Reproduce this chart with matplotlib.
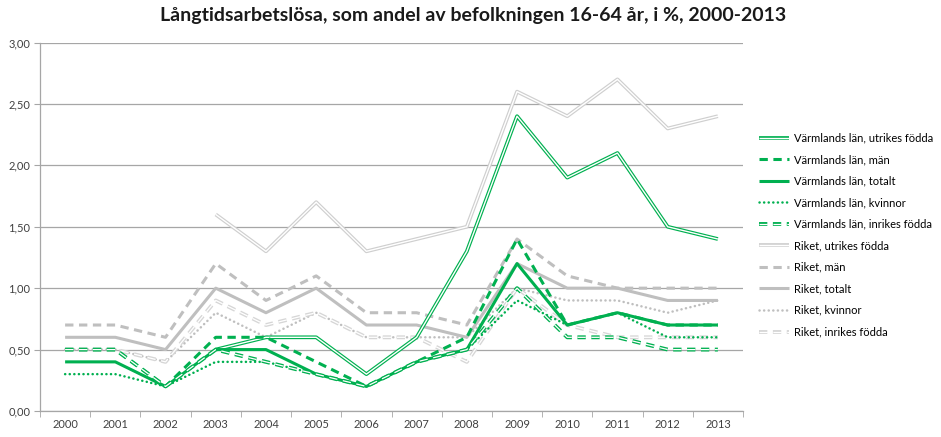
import numpy as np
import matplotlib
matplotlib.use("Agg")
import matplotlib.pyplot as plt
from matplotlib.ticker import FuncFormatter, FixedLocator

plt.rcParams["font.family"] = ["Lato", "DejaVu Sans"]
plt.rcParams["lines.scale_dashes"] = False

years = [str(y) for y in range(2000, 2014)]
nan = np.nan

# Värmlands län
varm_utrikes = [nan, nan, nan, 0.5, 0.6, 0.6, 0.3, 0.6, 1.3, 2.4, 1.9, 2.1, 1.5, 1.4]
varm_man = [0.5, 0.5, 0.2, 0.6, 0.6, 0.4, 0.2, 0.4, 0.6, 1.4, 0.7, 0.8, 0.7, 0.7]
varm_totalt = [0.4, 0.4, 0.2, 0.5, 0.5, 0.3, 0.2, 0.4, 0.5, 1.2, 0.7, 0.8, 0.7, 0.7]
varm_kvinnor = [0.3, 0.3, 0.2, 0.4, 0.4, 0.3, 0.2, 0.4, 0.5, 0.9, 0.7, 0.8, 0.6, 0.6]
varm_inrikes = [0.5, 0.5, 0.2, 0.5, 0.4, 0.3, 0.2, 0.4, 0.5, 1.0, 0.6, 0.6, 0.5, 0.5]

# Riket
riket_utrikes = [nan, nan, nan, 1.6, 1.3, 1.7, 1.3, 1.4, 1.5, 2.6, 2.4, 2.7, 2.3, 2.4]
riket_man = [0.7, 0.7, 0.6, 1.2, 0.9, 1.1, 0.8, 0.8, 0.7, 1.4, 1.1, 1.0, 1.0, 1.0]
riket_totalt = [0.6, 0.6, 0.5, 1.0, 0.8, 1.0, 0.7, 0.7, 0.6, 1.2, 1.0, 1.0, 0.9, 0.9]
riket_kvinnor = [0.5, 0.5, 0.4, 0.8, 0.6, 0.8, 0.6, 0.6, 0.6, 1.0, 0.9, 0.9, 0.8, 0.9]
riket_inrikes = [0.5, 0.5, 0.4, 0.9, 0.7, 0.8, 0.6, 0.6, 0.4, 1.0, 0.7, 0.6, 0.6, 0.6]

GREEN = "#00b050"
GREY = "#bfbfbf"
LIGHT = "#d6d6d6"

x = np.arange(len(years))

fig = plt.figure(figsize=(9.41, 4.37), dpi=100)
ax = fig.add_axes([40 / 941, 26 / 437, 703 / 941, 368.5 / 437])

DASH = (6, 4)
DOT = (0.1, 3.2)


def solid(vals, color, lw, z):
    ln, = ax.plot(x, vals, color=color, lw=lw, zorder=z, solid_capstyle="butt")
    return ln


def dashed(vals, color, lw, z):
    ln, = ax.plot(x, vals, color=color, lw=lw, zorder=z, dashes=DASH,
                  dash_capstyle="butt")
    return ln


def dotted(vals, color, lw, z):
    ln, = ax.plot(x, vals, color=color, lw=lw, zorder=z, dashes=DOT,
                  dash_capstyle="round")
    return ln


def double(vals, color, z, dash=False):
    # outer coloured stroke with a thin white stroke on top
    if dash:
        a = dashed(vals, color, 2.8, z)
        b = dashed(vals, "white", 0.9, z + 0.1)
    else:
        a = solid(vals, color, 2.7, z)
        b = solid(vals, "white", 1.0, z + 0.1)
    return (a, b)


handles = {}
handles["Riket, utrikes födda"] = double(riket_utrikes, "#cfcfcf", 2)
handles["Riket, män"] = dashed(riket_man, GREY, 2.2, 2.2)
handles["Riket, totalt"] = solid(riket_totalt, GREY, 2.2, 2.4)
handles["Riket, kvinnor"] = dotted(riket_kvinnor, GREY, 1.8, 2.6)
handles["Riket, inrikes födda"] = double(riket_inrikes, LIGHT, 2.8, dash=True)

handles["Värmlands län, utrikes födda"] = double(varm_utrikes, GREEN, 3)
handles["Värmlands län, män"] = dashed(varm_man, GREEN, 2.2, 3.2)
handles["Värmlands län, totalt"] = solid(varm_totalt, GREEN, 2.2, 3.4)
handles["Värmlands län, kvinnor"] = dotted(varm_kvinnor, GREEN, 1.8, 3.6)
handles["Värmlands län, inrikes födda"] = double(varm_inrikes, GREEN, 3.8, dash=True)

order = [
    "Värmlands län, utrikes födda", "Värmlands län, män", "Värmlands län, totalt",
    "Värmlands län, kvinnor", "Värmlands län, inrikes födda",
    "Riket, utrikes födda", "Riket, män", "Riket, totalt", "Riket, kvinnor",
    "Riket, inrikes födda",
]

ax.set_xlim(-0.5, len(years) - 0.5)
ax.set_ylim(0, 3)
ax.set_yticks(np.arange(0, 3.01, 0.5))
ax.yaxis.set_major_formatter(FuncFormatter(lambda v, _: f"{v:.2f}".replace(".", ",")))
ax.grid(axis="y", color="#a6a6a6", lw=0.9)
ax.set_axisbelow(True)

ax.set_xticks(x)
ax.set_xticklabels(years)
ax.xaxis.set_minor_locator(FixedLocator(np.arange(-0.5, len(years), 1.0)))
ax.tick_params(axis="x", which="major", length=0, pad=6, labelsize=8, colors="#404040")
ax.tick_params(axis="x", which="minor", length=4, color="#a6a6a6", direction="out")
ax.tick_params(axis="y", length=4, color="#a6a6a6", labelsize=8, colors="#404040", pad=3)
for s in ["top", "right"]:
    ax.spines[s].set_visible(False)
for s in ["left", "bottom"]:
    ax.spines[s].set_color("#a6a6a6")
    ax.spines[s].set_linewidth(0.9)

fig.legend([handles[k] for k in order], order, loc="upper left",
           bbox_to_anchor=(755 / 941, 1 - 128 / 437), frameon=False,
           fontsize=8, labelspacing=0.95, handlelength=2.7, handletextpad=0.4,
           borderaxespad=0)

fig.text(473 / 941, 1 - 16 / 437,
         "Långtidsarbetslösa, som andel av befolkningen 16-64 år, i %, 2000-2013",
         ha="center", va="center", fontsize=14, fontweight="bold", color="#1a1a1a")

fig.savefig("out.png", dpi=100)
